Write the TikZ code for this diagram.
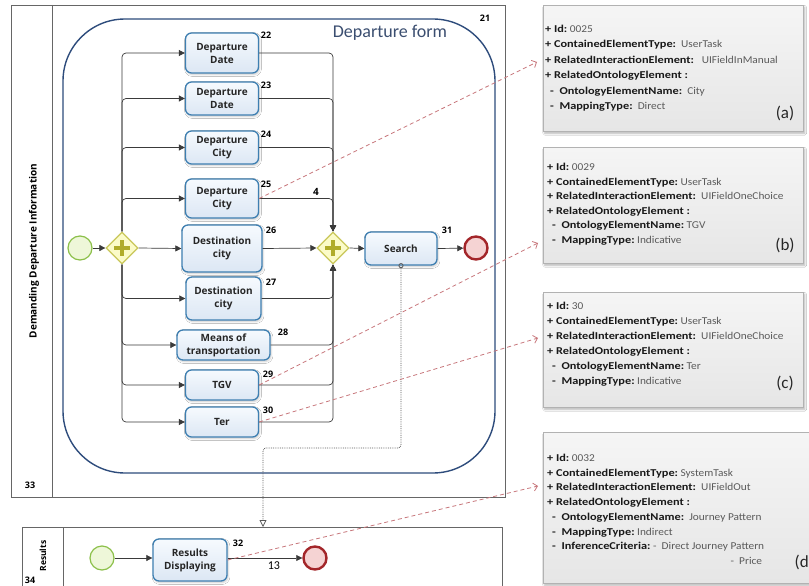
\documentclass[tikz,border=0pt]{standalone}
\usepackage{fontspec}
\setmainfont{Carlito}
\newfontfamily\bpmnfont{Open Sans}
\newfontfamily\keyfont[FakeStretch=1.17]{Carlito}
\newfontfamily\valfont[FakeStretch=1.08]{Carlito}
\usetikzlibrary{arrows.meta,shapes.geometric,shadows.blur,calc}

\definecolor{taskborder}{HTML}{3E7FB1}
\definecolor{taskhi}{HTML}{F6FAFE}
\definecolor{tasklo}{HTML}{DCE7F4}
\definecolor{startfill}{HTML}{EEF7D9}
\definecolor{startborder}{HTML}{8CC04A}
\definecolor{endfill}{HTML}{F5D3D3}
\definecolor{endborder}{HTML}{A3262A}
\definecolor{gwfill}{HTML}{FBFBC8}
\definecolor{gwborder}{HTML}{C9C75A}
\definecolor{gwplus}{HTML}{B0AC2A}
\definecolor{formblue}{HTML}{2E4C7C}
\definecolor{titleblue}{HTML}{3B4E70}
\definecolor{poolgrey}{HTML}{666666}
\definecolor{flowgrey}{HTML}{3A3A3A}
\definecolor{assoc}{HTML}{C8777C}
\definecolor{notehi}{HTML}{F5F5F5}
\definecolor{notelo}{HTML}{E6E6E6}
\definecolor{valgrey}{HTML}{5A5A5A}

% bold key followed by a grey value
\newcommand\kv[2]{{\keyfont\bfseries #1}{\valfont\color{valgrey}#2}}
\newcommand\kk[1]{{\keyfont\bfseries #1}}

\begin{document}
\begin{tikzpicture}[x=1pt,y=-1pt,
  task/.style={draw=taskborder, line width=1.3pt, rounded corners=6pt,
    top color=taskhi, bottom color=tasklo, align=center, inner sep=0pt,
    font=\bpmnfont\bfseries\fontsize{10}{13}\selectfont, text=black!85,
    blur shadow={shadow xshift=1pt, shadow yshift=-1.5pt, shadow opacity=20, shadow blur steps=5}},
  startev/.style={circle, draw=startborder, line width=1.2pt, fill=startfill,
    minimum size=24pt, inner sep=0pt},
  endev/.style={circle, draw=endborder, line width=2.4pt, fill=endfill,
    minimum size=23pt, inner sep=0pt},
  gateway/.style={diamond, draw=gwborder, line width=1.2pt, fill=gwfill,
    minimum width=32pt, minimum height=32pt, inner sep=0pt},
  plusbar/.style={draw=gwplus, line width=3.6pt},
  flow/.style={draw=flowgrey, line width=0.7pt, -{Triangle[length=6pt,width=6pt]}},
  bus/.style={flow, rounded corners=4pt},
  msg/.style={draw=flowgrey!85, line width=0.8pt, densely dotted, rounded corners=3pt,
    {Circle[open,length=5pt,width=5pt]}-{Triangle[open,length=7pt,width=7pt]},
    shorten <=-2.5pt},
  assocline/.style={draw=assoc, line width=0.8pt, dash pattern=on 4pt off 3pt,
    -{Straight Barb[length=4pt,width=8pt]}},
  pool/.style={draw=poolgrey, line width=0.9pt},
  form/.style={draw=formblue, line width=1.4pt, rounded corners=62pt},
  num/.style={font=\bpmnfont\bfseries\fontsize{9}{10}\selectfont, inner sep=0pt},
  lanelabel/.style={font=\bpmnfont\bfseries\fontsize{10}{12}\selectfont, inner sep=0pt, rotate=90},
  note/.style={top color=notehi, bottom color=notelo, draw=gray!60, line width=0.6pt,
    anchor=north west, inner sep=0pt,
    blur shadow={shadow xshift=1.5pt, shadow yshift=-2pt, shadow opacity=30, shadow blur steps=6}},
  notetext/.style={align=left, inner sep=0pt, anchor=north west, text=black!90},
  notetag/.style={font=\fontsize{17}{18}\selectfont, inner sep=0pt, text=black!85}]

\clip (0,0) rectangle (809,586);
\fill[white] (0,0) rectangle (809,586);

% ---- pool: Demanding Departure Information
\draw[pool] (11,5) rectangle (505,497);
\draw[pool] (52,5) -- (52,497);
\node[lanelabel] (lane1) at (34,251) {Demanding Departure Information};
\node[num] (n33) at (30,485) {33};
\node[num] (n21) at (485,18) {21};

% sub-process frame
\draw[form] (63,19) rectangle (495,473);
\node[font=\fontsize{18}{20}\selectfont, text=titleblue, inner sep=0pt] (title) at (390,33) {Departure form};

% ---- tasks
\node[task, minimum width=73pt, minimum height=40pt] (t22) at (222,53)    {Departure\\Date};
\node[task, minimum width=73pt, minimum height=33pt] (t23) at (222,98.5)  {Departure\\Date};
\node[task, minimum width=73pt, minimum height=33pt] (t24) at (222,147.5) {Departure\\City};
\node[task, minimum width=73pt, minimum height=39pt] (t25) at (222,198.5) {Departure\\City};
\node[task, minimum width=80pt, minimum height=47pt] (t26) at (222,248.5) {Destination\\city};
\node[task, minimum width=75pt, minimum height=43pt] (t27) at (223.5,298.5) {Destination\\city};
\node[task, minimum width=93pt, minimum height=30pt] (t28) at (223.5,345) {Means of\\transportation};
\node[task, minimum width=73pt, minimum height=30pt] (t29) at (222,385)   {TGV};
\node[task, minimum width=73pt, minimum height=30pt] (t30) at (222,422)   {Ter};
\node[task, minimum width=72pt, minimum height=33pt] (search) at (401,248.5) {Search};

\node[num] (n22) at (266,35)  {22};
\node[num] (n23) at (266,85)  {23};
\node[num] (n24) at (266,134) {24};
\node[num] (n25) at (266,184) {25};
\node[num] (n26) at (271,230) {26};
\node[num] (n27) at (271,282) {27};
\node[num] (n28) at (283,332) {28};
\node[num] (n29) at (268,374) {29};
\node[num] (n30) at (268,410) {30};
\node[num] (n31) at (447,230) {31};
\node[num, font=\bpmnfont\bfseries\fontsize{10}{11}\selectfont] (n4) at (316,192) {4};

% ---- events and gateways
\node[startev] (s1) at (80,248) {};
\node[gateway] (g1) at (122,248) {};
\draw[plusbar] ($(g1.center)+(-8,0)$) -- ($(g1.center)+(8,0)$);
\draw[plusbar] ($(g1.center)+(0,-8)$) -- ($(g1.center)+(0,8)$);
\node[gateway] (g2) at (333,248) {};
\draw[plusbar] ($(g2.center)+(-8,0)$) -- ($(g2.center)+(8,0)$);
\draw[plusbar] ($(g2.center)+(0,-8)$) -- ($(g2.center)+(0,8)$);
\node[endev] (e1) at (476,248) {};

% ---- sequence flows
\draw[flow] (s1) -- (g1);
\foreach \t in {t22,t23,t24,t25}{
  \draw[bus] (g1.north) |- (\t.west);
  \draw[bus] (\t.east) -| (g2.north);
}
\foreach \t in {t27,t28,t29,t30}{
  \draw[bus] (g1.south) |- (\t.west);
  \draw[bus] (\t.east) -| (g2.south);
}
\draw[flow] (g1.east) -- (t26.west);
\draw[flow] (t26.east) -- (g2.west);
\draw[flow] (g2.east) -- (search.west);
\draw[flow] (search.east) -- (e1);

% ---- pool: Results
\draw[pool] (22,527) rectangle (502,600);
\draw[pool] (63,527) -- (63,600);
\node[lanelabel, font=\bpmnfont\bfseries\fontsize{8.5}{10}\selectfont] (lane2) at (43,556) {Results};
\node[num] (n34) at (30,580) {34};
\coordinate (rtop) at (263,527);

\node[startev] (s2) at (102,558) {};
\node[task, minimum width=74pt, minimum height=42pt] (rd) at (190,560) {Results\\Displaying};
\node[endev] (e2) at (315,558) {};
\node[num] (n32) at (238,543) {32};
\draw[flow] (s2) -- (rd.west |- s2);
\draw[flow] (rd.east |- e2) -- node[pos=0.62, below=3pt, inner sep=0pt, font=\fontsize{12}{13}\selectfont] (n13) {13} (e2);

% ---- message flow from Search to Results
\draw[msg] (search.south) -- (search.south |- 0,448) -| (rtop);

% ---- annotation boxes
\node[note, minimum width=260pt, minimum height=126pt] (na) at (543,5) {};
\node[note, minimum width=260pt, minimum height=116pt] (nb) at (543,147) {};
\node[note, minimum width=260pt, minimum height=115pt] (nc) at (543,292) {};
\node[note, minimum width=270pt, minimum height=151pt] (nd) at (543,432) {};

\node[notetext, font=\fontsize{10.5}{15.4}\selectfont] (ta) at (545,25) {%
\kv{+ Id:}{\ 0025}\\
\kv{+ ContainedElementType:}{\ \ UserTask}\\
\kv{+ RelatedInteractionElement:}{\ \ \ UIFieldInManual}\\
\kk{+ RelatedOntologyElement :}\\
\hspace*{5pt}\kv{-\ \ OntologyElementName:}{\ \ City}\\
\hspace*{5pt}\kv{-\ \ MappingType:}{\ \ Direct}};
\node[notetag] (la) at (785,113) {(a)};

\node[notetext, font=\fontsize{10.5}{14.6}\selectfont] (tb) at (547,163) {%
\kv{+ Id:}{\ 0029}\\
\kv{+ ContainedElementType:}{\ UserTask}\\
\kv{+ RelatedInteractionElement:}{\ \ UIFieldOneChoice}\\
\kk{+ RelatedOntologyElement :}\\
\hspace*{5pt}\kv{-\ \ OntologyElementName:}{\ TGV}\\
\hspace*{5pt}\kv{-\ \ MappingType:}{\ Indicative}};
\node[notetag] (lb) at (785,245) {(b)};

\node[notetext, font=\fontsize{10.5}{15}\selectfont] (tc) at (547,302) {%
\kv{+ Id:}{\ 30}\\
\kv{+ ContainedElementType:}{\ UserTask}\\
\kv{+ RelatedInteractionElement:}{\ \ UIFieldOneChoice}\\
\kk{+ RelatedOntologyElement :}\\
\hspace*{5pt}\kv{-\ \ OntologyElementName:}{\ Ter}\\
\hspace*{5pt}\kv{-\ \ MappingType:}{\ Indicative}};
\node[notetag] (lc) at (785,383) {(c)};

\node[notetext, font=\fontsize{10.5}{14.7}\selectfont] (td) at (547,454) {%
\kv{+ Id:}{\ 0032}\\
\kv{+ ContainedElementType:}{\ SystemTask}\\
\kv{+ RelatedInteractionElement:}{\ \ UIFieldOut}\\
\kk{+ RelatedOntologyElement :}\\
\hspace*{5pt}\kv{-\ \ OntologyElementName:}{\ \ Journey Pattern}\\
\hspace*{5pt}\kv{-\ \ MappingType:}{\ Indirect}\\
\hspace*{5pt}\kv{-\ \ InferenceCriteria:}{\ -\ \ Direct Journey Pattern}\\
\hspace*{5pt}\phantom{\kv{-\ \ InferenceCriteria:}{\ -\ \ Direct Journey\ }}{\valfont\color{valgrey}-\ \ Price}};
\node[notetag, anchor=east] (ld) at (809,562) {(d};

% ---- associations to the annotation boxes
\coordinate (pa) at (537,62);
\coordinate (pb) at (538,243);
\coordinate (pc) at (538,338);
\coordinate (pd) at (538,486);
\draw[assocline] (t25.east) -- (pa);
\draw[assocline] (t29.east) -- (pb);
\draw[assocline] (t30.east) -- (pc);
\draw[assocline] (rd.east) -- (pd);
\end{tikzpicture}
\end{document}
